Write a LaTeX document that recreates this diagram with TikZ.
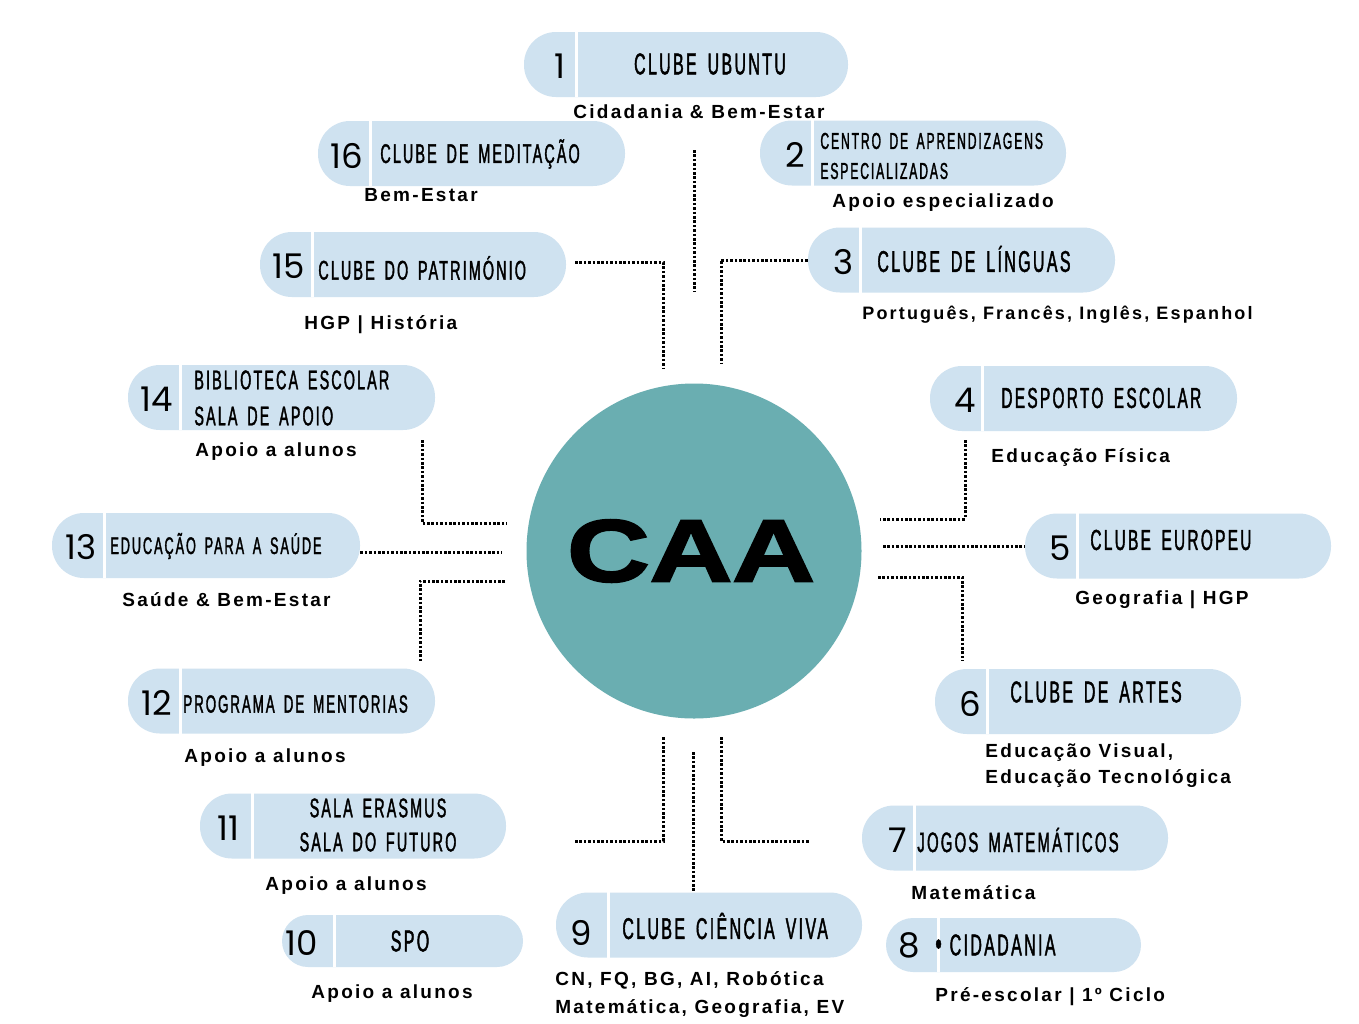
\documentclass[tikz,border=0pt]{standalone}
\usepackage{fontspec}
\setmainfont{Liberation Sans}
\newfontfamily\titlefont{Liberation Sans}[FakeStretch=0.53,FakeBold=1.4,LetterSpace=8,WordSpace=1.6]
\newfontfamily\subfont{Liberation Sans}[LetterSpace=12]
\newfontfamily\numfont{Poppins}
\newfontfamily\hubfont{Liberation Sans}[FakeStretch=1.3,FakeBold=2.5]
\usetikzlibrary{positioning,calc}
\definecolor{pillblue}{HTML}{CFE2F0}
\definecolor{hubteal}{HTML}{6AAEB1}

\begin{document}
\begin{tikzpicture}[
    x=0.5pt, y=-0.5pt,
    pill/.style={draw=none, fill=pillblue, rounded corners=16pt, minimum height=32.5pt, inner sep=0pt},
    divider/.style={white, line width=1.5pt},
    num/.style={inner sep=0pt, font=\numfont\fontsize{17pt}{17pt}\selectfont},
    title/.style={anchor=west, inner sep=0pt, align=left, font=\titlefont\fontsize{#1}{#1}\selectfont},
    sub/.style={anchor=west, inner sep=0pt, align=left, yshift=-0.3pt, font=\subfont\bfseries\fontsize{9.5pt}{13pt}\selectfont},
    hub/.style={circle, fill=hubteal, minimum size=167.5pt, inner sep=0pt,
                font=\hubfont\bfseries\fontsize{44pt}{44pt}\selectfont},
    link/.style={line width=1.5pt, dash pattern=on 1.3pt off 0.9pt, black},
]
  \useasboundingbox[fill=white] (0,0) rectangle (1359,1023);
  %% centre
  \node[hub] (caa) at (694,551) {\hspace{-3pt}\raisebox{-6.5pt}{CAA}};
  %% pills
  \node[pill, minimum width=162pt]   (p1)  at (686,64.5) {};
  \node[pill, minimum width=153pt]   (p2)  at (913,153) {};
  \node[pill, minimum width=153.5pt] (p3)  at (961.5,260) {};
  \node[pill, minimum width=153.5pt] (p4)  at (1083.5,398.5) {};
  \node[pill, minimum width=153pt]   (p5)  at (1178,546) {};
  \node[pill, minimum width=153pt]   (p6)  at (1088,701.5) {};
  \node[pill, minimum width=153pt]   (p7)  at (1015,838) {};
  \node[pill, minimum width=127.5pt, minimum height=27pt, rounded corners=13.5pt] (p8) at (1013.5,945) {};
  \node[pill, minimum width=153pt]   (p9)  at (709,925) {};
  \node[pill, minimum width=120.5pt, minimum height=26pt, rounded corners=13pt] (p10) at (402.5,941) {};
  \node[pill, minimum width=153pt]   (p11) at (353,826) {};
  \node[pill, minimum width=153.5pt] (p12) at (281.5,701) {};
  \node[pill, minimum width=154pt]   (p13) at (206,545.5) {};
  \node[pill, minimum width=153.5pt] (p14) at (281.5,397.5) {};
  \node[pill, minimum width=153pt]   (p15) at (413,264.5) {};
  \node[pill, minimum width=153.5pt] (p16) at (471.5,153.5) {};
  \foreach \i in {1,...,16}
    \draw[divider] ([xshift=26.5pt]p\i.north west) -- ([xshift=26.5pt]p\i.south west);
  %% numbers
  \foreach \i in {1,...,7}
    \node[num] (n\i) at ([xshift=18pt,yshift=-1pt]p\i.west) {\i};
  \node[num] (n8) at ([xshift=12pt,yshift=0pt]p8.west) {8};
  \node[num] (n9) at ([xshift=13pt,yshift=-4pt]p9.west) {9};
  \node[num] (n10) at ([xshift=10pt,yshift=-1pt]p10.west) {10};
  \foreach \i in {11,...,16}
    \node[num] (n\i) at ([xshift=14.5pt,yshift=-1pt]p\i.west) {\i};
  %% titles
  \node[title=15pt, anchor=center] (t1) at (710,64) {CLUBE UBUNTU};
  \node[title=11.5pt] (t2) at (820,156) {CENTRO DE APRENDIZAGENS\\[3.5pt]ESPECIALIZADAS};
  \node[title=15pt] (t3) at (877,259) {CLUBE DE LÍNGUAS};
  \node[title=14.5pt] (t4) at (1001,398) {DESPORTO ESCOLAR};
  \node[title=14.5pt] (t5) at (1090,540) {CLUBE EUROPEU};
  \node[title=15pt] (t6) at (1010,692) {CLUBE DE ARTES};
  \node[title=14pt] (t7) at (917,840) {JOGOS MATEMÁTICOS};
  \node[title=15pt] (t8) at (935,945) {{\fontsize{17pt}{17pt}\selectfont •}\hspace{4pt}CIDADANIA};
  \node[title=15pt] (t9) at (622,926) {CLUBE CIÊNCIA VIVA};
  \node[title=15pt, anchor=center] (t10) at (410,941) {SPO};
  \node[title=13.5pt, align=center, anchor=center] (t11) at (378,825) {SALA ERASMUS\\[3.5pt]SALA DO FUTURO};
  \node[title=12.5pt] (t12) at (183,704) {PROGRAMA DE MENTORIAS};
  \node[title=12pt] (t13) at (110,546) {EDUCAÇÃO PARA A SAÚDE};
  \node[title=13.5pt] (t14) at (194,398) {BIBLIOTECA ESCOLAR\\[4.5pt]SALA DE APOIO};
  \node[title=13.5pt] (t15) at (318,268) {CLUBE DO PATRIMÓNIO};
  \node[title=13.5pt] (t16) at (380,154) {CLUBE DE MEDITAÇÃO};
  %% subtitles
  \node[sub] (s1) at (573,111) {Cidadania \& Bem-Estar};
  \node[sub] (s2) at (832,202) {Apoio especializado};
  \node[sub, font=\subfont\bfseries\fontsize{9pt}{13pt}\selectfont] (s3) at (862,314) {Português, Francês, Inglês, Espanhol};
  \node[sub] (s4) at (991,457) {Educação Física};
  \node[sub] (s5) at (1075,599) {Geografia | HGP};
  \node[sub] (s6) at (985,765) {Educação Visual,\\Educação Tecnológica};
  \node[sub] (s7) at (911,892) {Matemática};
  \node[sub] (s8) at (935,996) {Pré-escolar | 1º Ciclo};
  \node[sub, font=\subfont\bfseries\fontsize{9.5pt}{14pt}\selectfont] (s9) at (555,994) {CN, FQ, BG, AI, Robótica\\Matemática, Geografia, EV};
  \node[sub] (s10) at (311,993) {Apoio a alunos};
  \node[sub] (s11) at (265,885) {Apoio a alunos};
  \node[sub] (s12) at (184,757) {Apoio a alunos};
  \node[sub] (s13) at (122,599) {Saúde \& Bem-Estar};
  \node[sub] (s14) at (195,451) {Apoio a alunos};
  \node[sub] (s15) at (304,324) {HGP | História};
  \node[sub] (s16) at (364,194) {Bem-Estar};
  %% dotted links
  \coordinate (c1a) at (694,150);  \coordinate (c1b) at (694,292);
  \coordinate (c15a) at (575,262); \coordinate (c15b) at (663,262); \coordinate (c15c) at (663,368);
  \coordinate (c3b) at (721,260);  \coordinate (c3c) at (721,363);
  \coordinate (c14a) at (422,440); \coordinate (c14b) at (422,523); \coordinate (c14c) at (507,523);
  \coordinate (c13) at (502,552);
  \coordinate (c12a) at (505,581); \coordinate (c12b) at (420,581); \coordinate (c12c) at (420,662);
  \coordinate (c4a) at (965,440);  \coordinate (c4b) at (965,519);  \coordinate (c4c) at (880,519);
  \coordinate (c5) at (883,546);
  \coordinate (c6a) at (878,577);  \coordinate (c6b) at (962,577);  \coordinate (c6c) at (962,661);
  \coordinate (c11a) at (575,841); \coordinate (c11b) at (663,841); \coordinate (c11c) at (663,737);
  \coordinate (c9) at (693,752);
  \coordinate (c7a) at (721,737);  \coordinate (c7b) at (721,841);  \coordinate (c7c) at (810,841);
  \draw[link] (c1a) -- (c1b);
  \draw[link] (c15a) -- (c15b) -- (c15c);
  \draw[link] (p3.west) -- (c3b) -- (c3c);
  \draw[link] (c14a) -- (c14b) -- (c14c);
  \draw[link] (p13.east |- c13) -- (c13);
  \draw[link] (c12a) -- (c12b) -- (c12c);
  \draw[link] (c4a) -- (c4b) -- (c4c);
  \draw[link] (c5) -- (p5.west);
  \draw[link] (c6a) -- (c6b) -- (c6c);
  \draw[link] (c11a) -- (c11b) -- (c11c);
  \draw[link] (c9) -- (p9.north -| c9);
  \draw[link] (c7a) -- (c7b) -- (c7c);
\end{tikzpicture}
\end{document}
